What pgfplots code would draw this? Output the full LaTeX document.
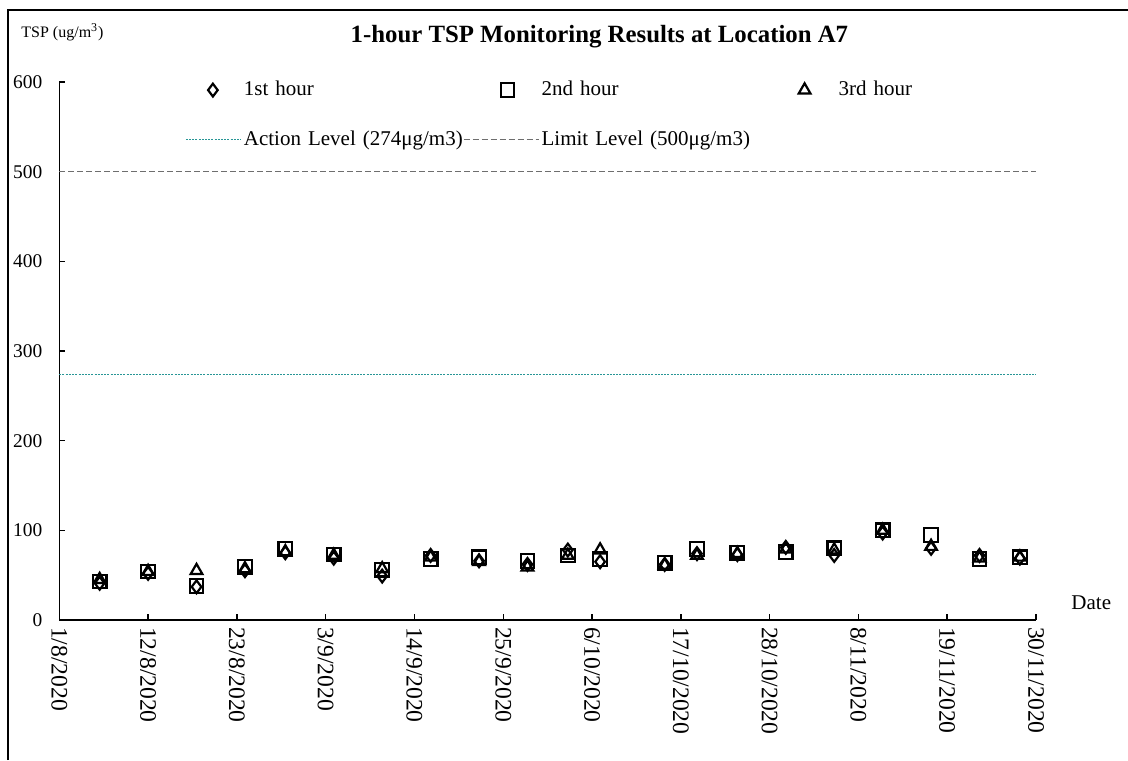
\documentclass[border=0pt]{standalone}
\usepackage{fontspec}
\setmainfont{Liberation Serif}
\usepackage{pgfplots}
\pgfplotsset{compat=1.18}
\definecolor{actioncol}{RGB}{40,150,150}
\definecolor{limitcol}{RGB}{110,110,110}
\begin{document}
\begin{tikzpicture}
\useasboundingbox (0,0) rectangle (564pt,380pt);
\draw[line width=0.6pt] (4pt,0) -- (4pt,375pt) -- (564pt,375pt);
\begin{axis}[
  at={(29.65pt,70pt)}, anchor=south west,
  scale only axis, width=488.35pt, height=269pt,
  xmin=0, xmax=121, ymin=0, ymax=600,
  axis x line=bottom, axis y line=left,
  axis line style={-, line width=0.75pt},
  every tick/.style={black, line width=0.75pt},
  tick align=inside, major tick length=3pt,
  xtick={0,11,...,121},
  xticklabels={1/8/2020,12/8/2020,23/8/2020,3/9/2020,14/9/2020,25/9/2020,6/10/2020,17/10/2020,28/10/2020,8/11/2020,19/11/2020,30/11/2020},
  xticklabel style={rotate=-90, anchor=west, font=\fontsize{11.8}{14}\selectfont},
  ytick={0,100,...,600},
  yticklabel style={font=\fontsize{9.7}{12}\selectfont, xshift=-5pt},
  /pgf/number format/assume math mode=true,
  clip=false,
  legend columns=3,
  legend cell align=left,
  legend style={draw=none, fill=none, inner sep=0pt, at={(0.1287,1.002)}, anchor=north west,
    font=\fontsize{10.5}{12}\selectfont, column sep=0pt, row sep=16pt,
    nodes={inner xsep=0pt, inner ysep=0pt, text width=109.5pt, align=left}},
]
\addplot[only marks, black, mark=diamond, mark size=3.2pt, mark options={line width=1.1pt, black},
  legend image code/.code={\path[draw=none, fill=none] (0pt,0pt) -- (29pt,0pt); \draw plot coordinates {(13.5pt,0pt)};}]
  coordinates {(5,41)(11,52)(17,37)(23,55)(28,75)(34,69)(40,49)(46,72)(52,66)(58,62)(63,78)(67,65)(75,62)(79,74)(84,73)(90,81)(96,72)(102,97)(108,80)(114,72)(119,69)};
\addlegendentry{1st hour}
\addplot[only marks, black, mark=square, mark size=3.4pt, mark options={line width=1.1pt, black},
  legend image code/.code={\path[draw=none, fill=none] (0pt,0pt) -- (39pt,0pt); \draw plot coordinates {(22pt,0pt)};}]
  coordinates {(5,43)(11,54)(17,38)(23,59)(28,79)(34,73)(40,56)(46,68)(52,70)(58,66)(63,72)(67,68)(75,64)(79,79)(84,75)(90,76)(96,80)(102,100)(108,95)(114,68)(119,70)};
\addlegendentry{2nd hour}
\addplot[only marks, black, mark=triangle, mark size=3.4pt, mark options={line width=1.1pt, black},
  legend image code/.code={\path[draw=none, fill=none] (0pt,0pt) -- (39pt,0pt); \draw plot coordinates {(22pt,0pt)};}]
  coordinates {(5,45)(11,54)(17,55)(23,57)(28,76)(34,72)(40,57)(46,70)(52,65)(58,59)(63,72)(67,78)(75,61)(79,72)(84,74)(90,79)(96,78)(102,100)(108,82)(114,69)(119,70)};
\addlegendentry{3rd hour}
\addplot[actioncol, line width=0.5pt, dash pattern=on 1pt off 0.6pt,
  legend image code/.code={\path[draw=none, fill=none] (0pt,0pt) -- (29pt,0pt); \draw (0pt,0pt) -- (27.5pt,0pt);}]
  coordinates {(0,274) (121,274)};
\addlegendentry{Action Level (274μg/m3)}
\addplot[limitcol, line width=0.7pt, dash pattern=on 3pt off 1.5pt,
  legend image code/.code={\path[draw=none, fill=none] (0pt,0pt) -- (39pt,0pt); \draw (0pt,0pt) -- (37.5pt,0pt);}]
  coordinates {(0,500) (121,500)};
\addlegendentry{Limit Level (500μg/m3)}
\node[anchor=west, font=\fontsize{8}{10}\selectfont, inner sep=0pt] at (rel axis cs:-0.0392,1.0929) {TSP (ug/m\textsuperscript{3})};
\node[font=\bfseries\fontsize{12.4}{15}\selectfont] at (rel axis cs:0.553,1.0836) {1-hour TSP Monitoring Results at Location A7};
\node[font=\fontsize{10.5}{12}\selectfont] at (rel axis cs:1.0566,0.0316) {Date};
\end{axis}
\end{tikzpicture}
\end{document}
